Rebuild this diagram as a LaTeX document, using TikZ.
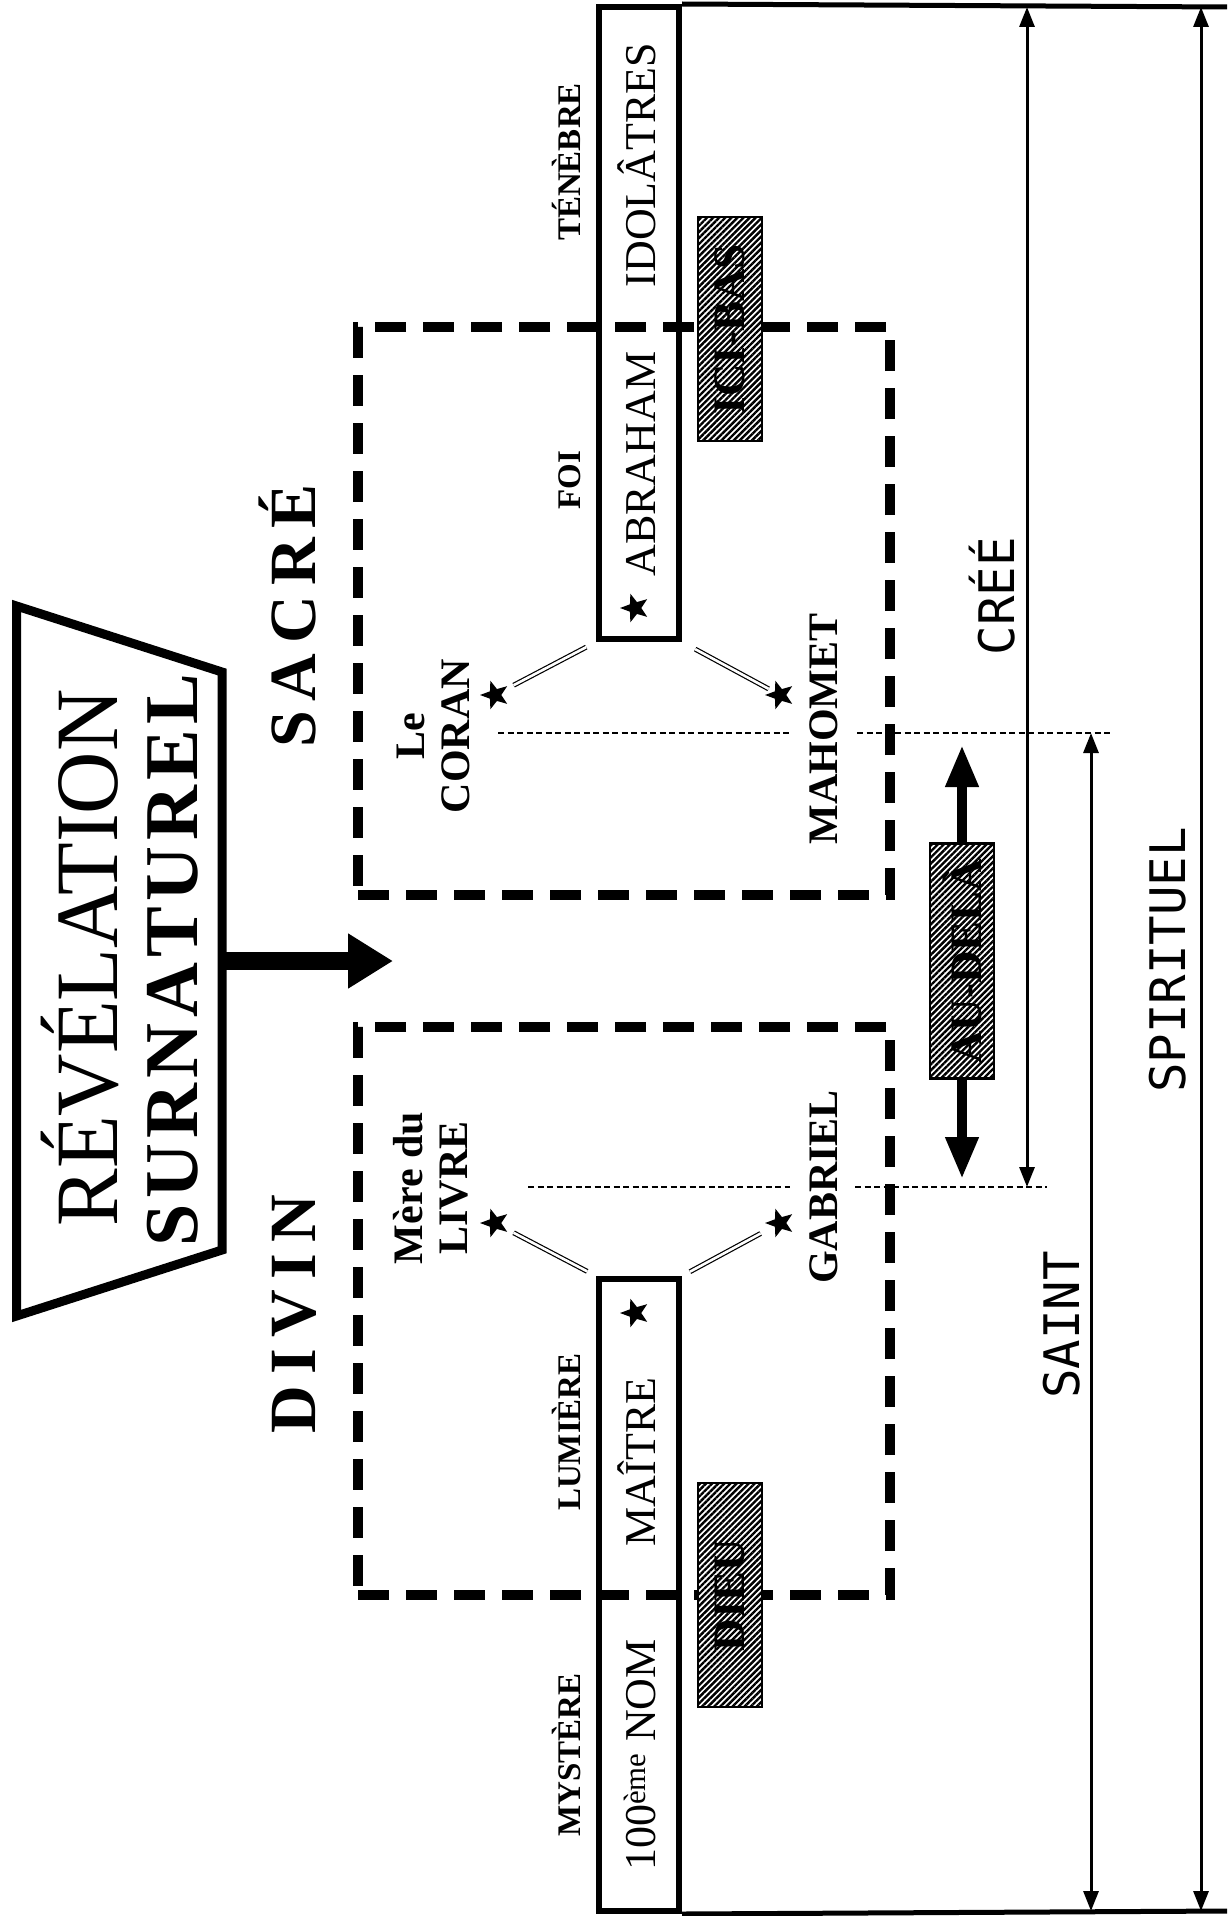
\documentclass[tikz,border=0pt]{standalone}
\usepackage{fontspec}
\setmainfont{Liberation Serif}
\newfontfamily\monofont{DejaVu Sans Mono}
\usetikzlibrary{arrows.meta,shapes.geometric,patterns.meta}
\newcommand\fsz[1]{\fontsize{#1}{#1}\selectfont}
\begin{document}
\begin{tikzpicture}[x=1pt,y=-1pt,
  lbl/.style={rotate=90, anchor=base, inner sep=0pt},
  dashbox/.style={draw, line width=9.5pt, dash pattern=on 31pt off 17pt, inner sep=0pt},
  barbox/.style={draw, line width=6pt, inner sep=0pt},
  starnode/.style={star, star points=5, star point ratio=2.4, fill=black, inner sep=0pt, minimum size=30pt, shape border rotate=90},
  dbl/.style={double, line width=1.2pt, double distance=2.6pt},
  dots/.style={line width=2.5pt, dash pattern=on 6pt off 3.5pt},
  dim/.style={line width=3pt, {Triangle[length=20pt,width=15pt]}-{Triangle[length=20pt,width=15pt]}},
  hatch/.style={draw, line width=2.5pt, preaction={fill=white}, pattern={Lines[angle=45,distance=4.3pt,line width=2.4pt]}, pattern color=black, inner sep=0pt},
  hlabel/.style={rotate=90, inner sep=0pt, font=\bfseries\fsz{45}},
  serlbl/.style={lbl, font=\fsz{44}},
  boldsm/.style={lbl, font=\bfseries\fsz{33}},
  boldmd/.style={lbl, font=\bfseries\fsz{42}},
  monolbl/.style={lbl, font=\monofont\fsz{49}}
]
\path[use as bounding box] (0,0) rectangle (1227,1916);

% trapezoid and main arrow
\draw[line width=9pt, line join=miter] (16.5,606) -- (222,672) -- (222,1250) -- (16.5,1316) -- cycle;
\coordinate (trapE) at (222,961);
\coordinate (gap) at (393,961);
\draw[line width=18pt, -{Triangle[length=45pt,width=52pt]}] (trapE) -- (gap);
\node[lbl, font=\fsz{89}] (rev) at (117,958) {\scalebox{0.97}[1]{RÉVÉLATION}};
\node[lbl, font=\bfseries\fsz{76}] (sur) at (197,960) {S\kern5.5pt U\kern5.5pt R\kern5.5pt N\kern5.5pt A\kern5.5pt T\kern5.5pt U\kern5.5pt R\kern5.5pt E\kern5.5pt L};

% dashed boxes
\node[dashbox, minimum width=532pt, minimum height=568pt] (sacre) at (624,611) {};
\node[dashbox, minimum width=532pt, minimum height=568pt] (divin) at (624,1311) {};
\node[lbl, font=\bfseries\fsz{66}] (sacreT) at (315,616) {S\kern10pt A\kern10pt C\kern10pt R\kern10pt É};
\node[lbl, font=\bfseries\fsz{66}] (divinT) at (315,1314) {D\kern11pt I\kern11pt V\kern11pt I\kern11pt N};

% bars
\node[barbox, minimum width=80pt, minimum height=632pt] (barU) at (639,323) {};
\node[barbox, minimum width=80pt, minimum height=632pt] (barL) at (639,1595) {};
\coordinate (topR) at (1227,7);
\coordinate (botR) at (1227,1911);
\draw[line width=5pt] (barU.north east) -- (topR);
\draw[line width=5pt] (barL.south east) -- (botR);

% bar texts
\node[boldsm] (tenebre) at (580,162) {TÉNÈBRE};
\node[boldsm] (foi) at (580,480) {FOI};
\node[serlbl] (idol) at (655,165) {IDOLÂTRES};
\node[serlbl] (abra) at (655,464) {ABRAHAM};
\node[starnode] (sU) at (635,608) {};
\node[boldsm] (lumiere) at (580,1432) {LUMIÈRE};
\node[boldsm] (mystere) at (580,1755) {MYSTÈRE};
\node[serlbl] (maitre) at (655,1462) {MAÎTRE};
\node[serlbl] (nom) at (655,1755) {100\textsuperscript{ème} NOM};
\node[starnode] (sL) at (635,1313) {};

% hatched boxes
\node[hatch, minimum width=64pt, minimum height=224pt] (icibas) at (730,329) {};
\node[hlabel] (icibasT) at (icibas.center) {ICI-BAS};
\node[hatch, minimum width=64pt, minimum height=224pt] (dieu) at (730,1595) {};
\node[hlabel] (dieuT) at (dieu.center) {DIEU};
\node[hatch, minimum width=64pt, minimum height=235pt] (aud) at (962,961) {};
\node[hlabel] (audT) at (aud.center) {AU-DELÀ};
\coordinate (audUp) at (962,745);
\coordinate (audDn) at (962,1179);
\draw[line width=10pt, -{Triangle[length=42pt,width=31pt]}] (aud.north) -- (audUp);
\draw[line width=10pt, -{Triangle[length=42pt,width=31pt]}] (aud.south) -- (audDn);

% side stars and labels
\node[starnode] (s1) at (495,695) {};
\node[starnode] (s2) at (780,695) {};
\node[starnode] (s3) at (495,1223) {};
\node[starnode] (s4) at (780,1223) {};
\node[rotate=90, align=center, inner sep=0pt, font=\bfseries\fontsize{42}{45}\selectfont] (coran) at (433.5,736) {Le\\CORAN};
\node[rotate=90, align=center, inner sep=0pt, font=\bfseries\fontsize{42}{45}\selectfont] (livre) at (431,1188) {Mère du\\LIVRE};
\node[boldmd] (mahomet) at (837,729) {MAHOMET};
\node[boldmd] (gabriel) at (837,1187) {GABRIEL};

% double connectors
\draw[dbl, shorten <=11pt, shorten >=21pt] (barU.south west) -- (s1.center);
\draw[dbl, shorten <=15pt, shorten >=13pt] (barU.south east) -- (s2.center);
\draw[dbl, shorten <=10pt, shorten >=21pt] (barL.north west) -- (s3.center);
\draw[dbl, shorten <=9pt, shorten >=22pt] (barL.north east) -- (s4.center);

% dotted guide lines
\coordinate (d1a) at (498,733); \coordinate (d1b) at (790,733);
\coordinate (d1c) at (857,733); \coordinate (d1d) at (1110,733);
\coordinate (d2a) at (528,1187); \coordinate (d2b) at (790,1187);
\coordinate (d2c) at (855,1187); \coordinate (d2d) at (1047,1187);
\draw[dots] (d1a) -- (d1b);
\draw[dots] (d1c) -- (d1d);
\draw[dots] (d2a) -- (d2b);
\draw[dots] (d2c) -- (d2d);

% dimension arrows
\coordinate (creeB) at (1027,1187); \coordinate (creeT) at (1027,7);
\coordinate (saintT) at (1091,733); \coordinate (saintB) at (1091,1911);
\coordinate (spirT) at (1201,7); \coordinate (spirB) at (1201,1911);
\draw[dim] (creeB) -- (creeT);
\draw[dim] (saintT) -- (saintB);
\draw[dim] (spirT) -- (spirB);
\node[monolbl] (cree) at (1014,596) {CRÉÉ};
\node[monolbl] (saint) at (1079,1325) {SAINT};
\node[monolbl] (spir) at (1185,960) {SPIRITUEL};
\end{tikzpicture}
\end{document}
